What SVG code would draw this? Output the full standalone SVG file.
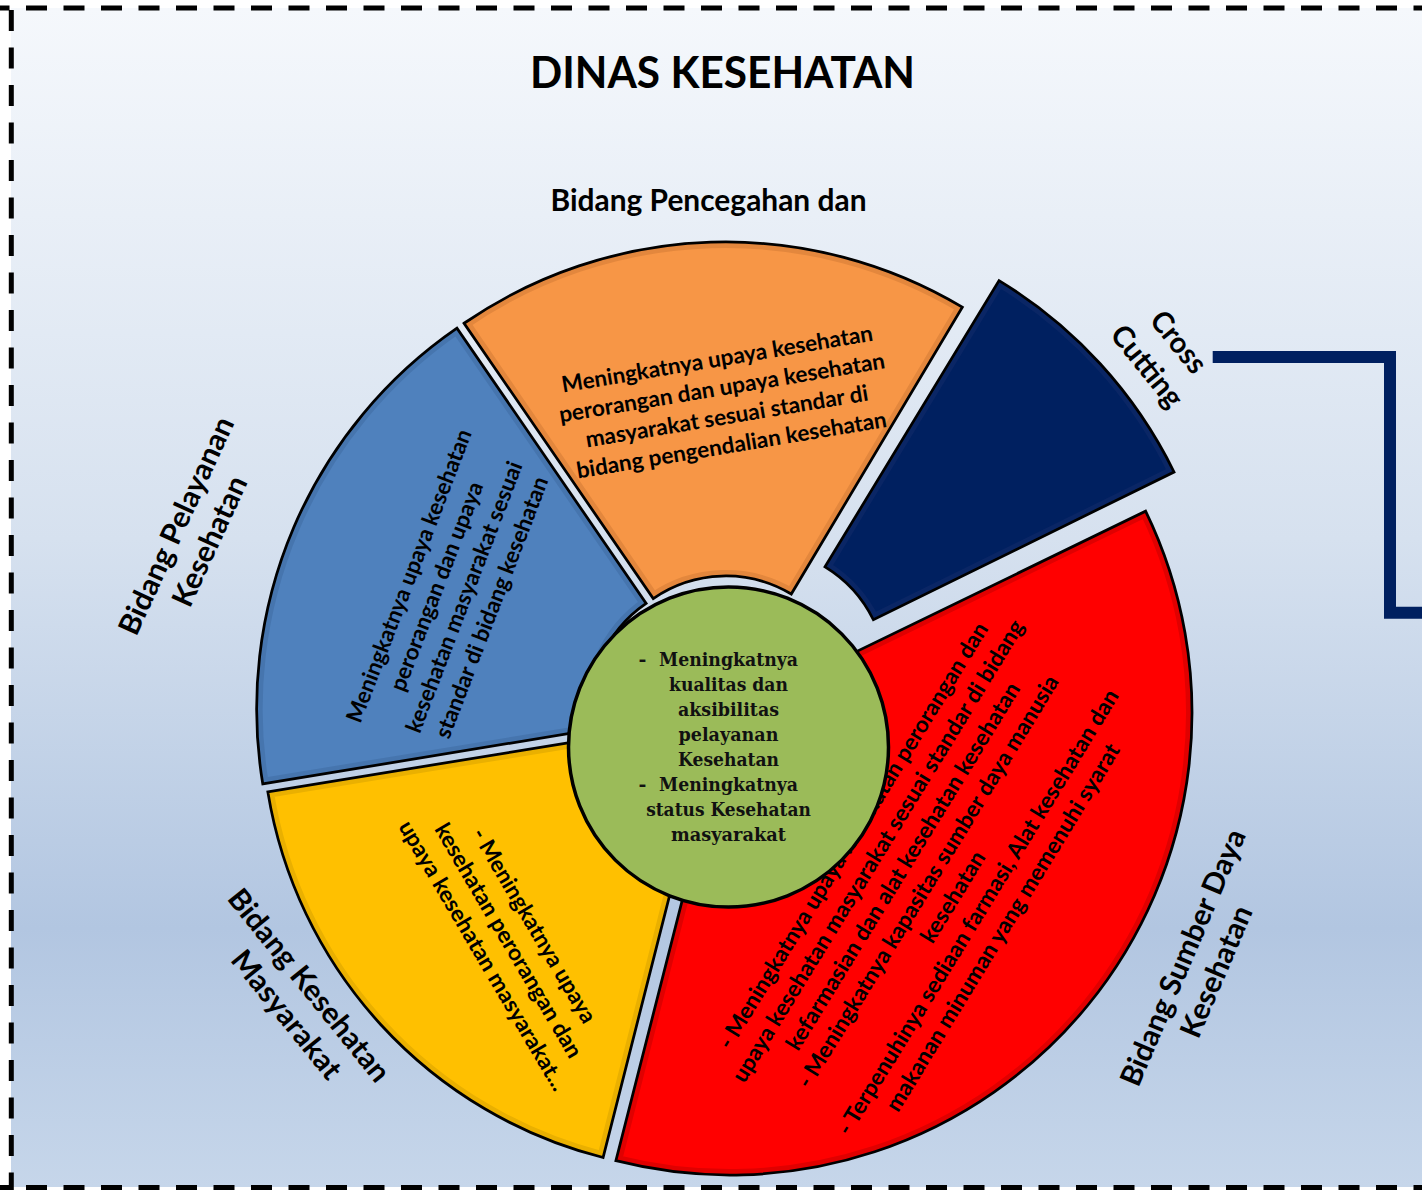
<svg xmlns="http://www.w3.org/2000/svg" xmlns:xlink="http://www.w3.org/1999/xlink" width="1422" height="1190" viewBox="0 0 1422 1190">
<style>
.s{font-family:Lato,'Open Sans','Liberation Sans',sans-serif;font-weight:700;fill:#000;text-anchor:middle}
.t22{font-size:22.5px}
.t29{font-size:29.5px}
.g{font-family:'DejaVu Serif','Liberation Serif',serif;font-weight:700;font-size:19px;fill:#111;text-anchor:middle}
.edge{fill:none;stroke:#000;stroke-width:2.75;stroke-linejoin:miter}
.band{fill:none;stroke-width:12}
.dash{fill:none;stroke:#000;stroke-width:5;stroke-dasharray:21 16.5}
</style>
<defs>
<linearGradient id="bg" x1="0" y1="0" x2="0" y2="1">
<stop offset="0" stop-color="#F5F8FC"/>
<stop offset="0.45" stop-color="#D6E1EF"/>
<stop offset="0.78" stop-color="#B2C6E1"/>
<stop offset="1" stop-color="#C6D6EA"/>
</linearGradient>
<path id="p-blue" d="M262.78,783.92 A462,462 0 0 1 456.96,328.11 L646.14,603.37 A128,128 0 0 0 592.34,729.66 Z"/>
<path id="p-orange" d="M464.06,323.25 A462,462 0 0 1 962.32,307.16 L791.29,594.05 A128,128 0 0 0 653.24,598.51 Z"/>
<path id="p-navy" d="M999.04,280.59 A463,463 0 0 1 1174.03,472.0 L873.38,619.75 A128,128 0 0 0 825.0,566.83 Z"/>
<path id="p-red" d="M1145.6,511.2 A462,462 0 0 1 615.89,1160.69 L698.38,837.03 A128,128 0 0 0 845.14,657.09 Z"/>
<path id="p-yellow" d="M603.09,1157.5 A452.5,452.5 0 0 1 267.83,791.87 L588.08,739.54 A128,128 0 0 0 682.91,842.97 Z"/>
<clipPath id="c-blue"><use xlink:href="#p-blue"/></clipPath>
<clipPath id="c-orange"><use xlink:href="#p-orange"/></clipPath>
<clipPath id="c-navy"><use xlink:href="#p-navy"/></clipPath>
<clipPath id="c-red"><use xlink:href="#p-red"/></clipPath>
<clipPath id="c-yellow"><use xlink:href="#p-yellow"/></clipPath>
</defs>

<g id="background">
<rect x="0" y="0" width="1422" height="1190" fill="#FFFFFF"/>
<rect x="11" y="8" width="1411" height="1179" fill="url(#bg)"/>
<line class="dash" x1="0" y1="8" x2="1422" y2="8" stroke-dashoffset="11.5"/>
<line class="dash" x1="11.3" y1="0" x2="11.3" y2="1190" stroke-dashoffset="27.5"/>
<line class="dash" x1="0" y1="1187.5" x2="1422" y2="1187.5" stroke-dashoffset="11.5"/>
</g>

<g id="title">
<text class="s" x="722.5" y="88" font-size="44" textLength="385" lengthAdjust="spacingAndGlyphs">DINAS KESEHATAN</text>
</g>

<g id="connectors">
<path d="M1212.7,357 H1390 V612.7 H1422" fill="none" stroke="#002060" stroke-width="12"/>
</g>

<g id="node-blue">
<use xlink:href="#p-blue" fill="#4F81BD"/>
<use xlink:href="#p-blue" class="band" stroke="#4675AE" clip-path="url(#c-blue)"/>
<use xlink:href="#p-blue" class="edge"/>
<g transform="translate(451.45,592.1) rotate(-69)">
<text class="s t22" x="0" y="-37.75" textLength="312" lengthAdjust="spacingAndGlyphs">Meningkatnya upaya kesehatan</text>
<text class="s t22" x="0" y="-8.25" textLength="222" lengthAdjust="spacingAndGlyphs">perorangan dan upaya</text>
<text class="s t22" x="0" y="21.25" textLength="288" lengthAdjust="spacingAndGlyphs">kesehatan masyarakat sesuai</text>
<text class="s t22" x="0" y="50.75" textLength="278" lengthAdjust="spacingAndGlyphs">standar di bidang kesehatan</text>
</g>
<text class="s t29" transform="translate(185.5,530) rotate(-65.3)" textLength="236" lengthAdjust="spacingAndGlyphs">Bidang Pelayanan</text>
<text class="s t29" transform="translate(218.9,545.5) rotate(-65.3)" textLength="140" lengthAdjust="spacingAndGlyphs">Kesehatan</text>
</g>

<g id="node-orange">
<use xlink:href="#p-orange" fill="#F79646"/>
<use xlink:href="#p-orange" class="band" stroke="#E3873D" clip-path="url(#c-orange)"/>
<use xlink:href="#p-orange" class="edge"/>
<g transform="translate(725.6,409.65) rotate(-9.5)">
<text class="s t22" x="0" y="-43.65" textLength="315" lengthAdjust="spacingAndGlyphs">Meningkatnya upaya kesehatan</text>
<text class="s t22" x="0" y="-14.55" textLength="330" lengthAdjust="spacingAndGlyphs">perorangan dan upaya kesehatan</text>
<text class="s t22" x="0" y="14.55" textLength="286" lengthAdjust="spacingAndGlyphs">masyarakat sesuai standar di</text>
<text class="s t22" x="0" y="43.65" textLength="314" lengthAdjust="spacingAndGlyphs">bidang pengendalian kesehatan</text>
</g>
<text class="s t29" x="708.5" y="211" textLength="316" lengthAdjust="spacingAndGlyphs">Bidang Pencegahan dan</text>
</g>

<g id="node-navy">
<use xlink:href="#p-navy" fill="#002060"/>
<use xlink:href="#p-navy" class="band" stroke="#0A2665" clip-path="url(#c-navy)"/>
<use xlink:href="#p-navy" class="edge"/>
<text class="s t29" transform="translate(1170.8,348.3) rotate(51)" textLength="71" lengthAdjust="spacingAndGlyphs">Cross</text>
<text class="s t29" transform="translate(1139.3,372.5) rotate(51)" textLength="96.5" lengthAdjust="spacingAndGlyphs">Cutting</text>
</g>

<g id="node-yellow">
<use xlink:href="#p-yellow" fill="#FFC000"/>
<use xlink:href="#p-yellow" class="band" stroke="#EAB000" clip-path="url(#c-yellow)"/>
<use xlink:href="#p-yellow" class="edge"/>
<g transform="translate(507.5,941.2) rotate(59.5)">
<text class="s t22" x="0" y="-23.2" textLength="222" lengthAdjust="spacingAndGlyphs">- Meningkatnya upaya</text>
<text class="s t22" x="0" y="6.5" textLength="268" lengthAdjust="spacingAndGlyphs">kesehatan perorangan dan</text>
<text class="s t22" x="0" y="36.2" textLength="309" lengthAdjust="spacingAndGlyphs">upaya kesehatan masyarakat...</text>
</g>
<text class="s t29" transform="translate(301.2,991.7) rotate(51)" textLength="238.4" lengthAdjust="spacingAndGlyphs">Bidang Kesehatan</text>
<text class="s t29" transform="translate(278.6,1020.9) rotate(51)" textLength="156.4" lengthAdjust="spacingAndGlyphs">Masyarakat</text>
</g>

<g id="node-red">
<use xlink:href="#p-red" fill="#FF0000"/>
<use xlink:href="#p-red" class="band" stroke="#E00000" clip-path="url(#c-red)"/>
<use xlink:href="#p-red" class="edge"/>
<g transform="translate(928.9,882.2) rotate(-58.5)">
<text class="s t22" x="0" y="-81.4" textLength="495" lengthAdjust="spacingAndGlyphs">- Meningkatnya upaya kesehatan perorangan dan</text>
<text class="s t22" x="0" y="-52.1" textLength="537" lengthAdjust="spacingAndGlyphs">upaya kesehatan masyarakat sesuai standar di bidang</text>
<text class="s t22" x="0" y="-22.8" textLength="426.5" lengthAdjust="spacingAndGlyphs">kefarmasian dan alat kesehatan kesehatan</text>
<text class="s t22" x="0" y="6.5" textLength="479" lengthAdjust="spacingAndGlyphs">- Meningkatnya kapasitas sumber daya manusia</text>
<text class="s t22" x="0" y="35.8" textLength="103" lengthAdjust="spacingAndGlyphs">kesehatan</text>
<text class="s t22" x="0" y="65.1" textLength="517.4" lengthAdjust="spacingAndGlyphs">- Terpenuhinya sediaan farmasi, Alat kesehatan dan</text>
<text class="s t22" x="0" y="94.4" textLength="426.3" lengthAdjust="spacingAndGlyphs">makanan minuman yang memenuhi syarat</text>
</g>
<text class="s t29" transform="translate(1192.3,961.5) rotate(-66.9)" textLength="275.6" lengthAdjust="spacingAndGlyphs">Bidang Sumber Daya</text>
<text class="s t29" transform="translate(1225.7,975.6) rotate(-66.9)" textLength="140" lengthAdjust="spacingAndGlyphs">Kesehatan</text>
</g>

<g id="node-center">
<circle cx="728.5" cy="747" r="160" fill="#9BBB59" stroke="#000" stroke-width="3.5"/>
<text class="g" x="642.5" y="665.5">-</text>
<text class="g" x="728.5" y="665.5" textLength="139" lengthAdjust="spacingAndGlyphs">Meningkatnya</text>
<text class="g" x="728.5" y="690.5" textLength="119" lengthAdjust="spacingAndGlyphs">kualitas dan</text>
<text class="g" x="728.5" y="715.5" textLength="101" lengthAdjust="spacingAndGlyphs">aksibilitas</text>
<text class="g" x="728.5" y="740.5" textLength="100" lengthAdjust="spacingAndGlyphs">pelayanan</text>
<text class="g" x="728.5" y="765.5" textLength="101" lengthAdjust="spacingAndGlyphs">Kesehatan</text>
<text class="g" x="642.5" y="790.5">-</text>
<text class="g" x="728.5" y="790.5" textLength="139" lengthAdjust="spacingAndGlyphs">Meningkatnya</text>
<text class="g" x="728.5" y="815.5" textLength="164.7" lengthAdjust="spacingAndGlyphs">status Kesehatan</text>
<text class="g" x="728.5" y="840.5" textLength="115" lengthAdjust="spacingAndGlyphs">masyarakat</text>
</g>
</svg>
